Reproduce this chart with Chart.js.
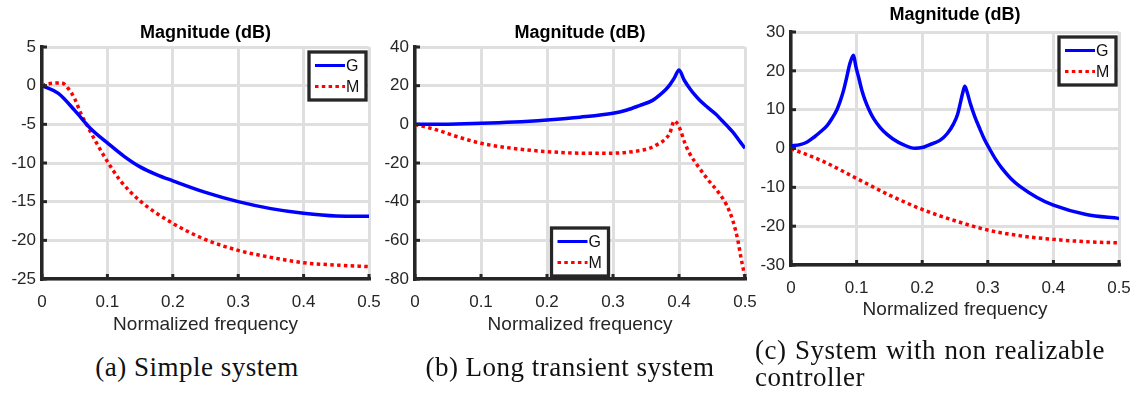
<!DOCTYPE html>
<html>
<head>
<meta charset="utf-8">
<script src="https://cdn.jsdelivr.net/npm/chart.js@4.4.1/dist/chart.umd.min.js"></script>
<style>
  body { margin: 0; background: #fff; width: 1137px; height: 398px; overflow: hidden; position: relative; }
  canvas { position: absolute; top: 0; }
  .cap { position: absolute; font-family: "Liberation Serif", serif; font-size: 27px; line-height: 27px; letter-spacing: 0.5px; color: #111; white-space: nowrap; }
</style>
</head>
<body>
<canvas id="grafA" width="385" height="345" style="left:0px"></canvas>
<canvas id="grafB" width="385" height="345" style="left:375px"></canvas>
<canvas id="grafC" width="387" height="345" style="left:750px"></canvas>

<div class="cap" style="left:92px; top:354px; width:210px; text-align:center">(a) Simple system</div>
<div class="cap" style="left:410px; top:354px; width:320px; text-align:center">(b) Long transient system</div>
<div class="cap" style="left:755px; top:337px; width:350px; white-space:normal; text-align:justify; text-align-last:left">(c) System with non realizable controller</div>

<script>
// Datos
const xTicks = [0, 0.1, 0.2, 0.3, 0.4, 0.5];

// (a) Sistema simple
const freqGA = [0, 0.025, 0.05, 0.075, 0.1, 0.125, 0.15, 0.175, 0.2, 0.25, 0.3, 0.35, 0.4, 0.45, 0.5];
const magGA  = [0, -1.0, -3.2, -5.6, -7.4, -9.1, -10.5, -11.5, -12.3, -13.8, -15.0, -15.9, -16.5, -16.85, -16.9];
const freqMA = [0, 0.015, 0.03, 0.04, 0.05, 0.06, 0.07, 0.08, 0.1, 0.12, 0.15, 0.2, 0.25, 0.3, 0.35, 0.4, 0.45, 0.5];
const magMA  = [0, 0.3, 0.35, -0.35, -1.7, -3.7, -5.3, -6.9, -9.8, -12.3, -14.9, -17.8, -19.9, -21.3, -22.2, -22.9, -23.2, -23.4];
const yTicksA = [5, 0, -5, -10, -15, -20, -25];

// (b) Sistema con transitorio largo
const freqGB = [0, 0.05, 0.1, 0.15, 0.2, 0.25, 0.3, 0.32, 0.34, 0.36, 0.371, 0.38, 0.386, 0.393, 0.4, 0.408, 0.416, 0.424, 0.431, 0.443, 0.456, 0.465, 0.474, 0.481, 0.487, 0.493, 0.5];
const magGB  = [0, 0.1, 0.5, 1.2, 2.3, 3.7, 5.7, 7.3, 9.7, 12.4, 15.2, 18.0, 20.4, 24.0, 28.1, 22.8, 18.7, 15.2, 12.6, 8.9, 5.2, 2.0, -1.2, -3.8, -6.4, -9.2, -12.4];
const freqMB = [0, 0.033, 0.065, 0.1, 0.15, 0.2, 0.25, 0.3, 0.34, 0.355, 0.365, 0.376, 0.386, 0.393, 0.401, 0.409, 0.416, 0.431, 0.444, 0.459, 0.472, 0.482, 0.489, 0.494, 0.5];
const magMB  = [0, -2.9, -6.5, -9.8, -12.5, -14.1, -14.9, -14.9, -13.6, -12.4, -10.8, -8.6, -4.6, 1.8, -2.0, -9.8, -15.0, -22.7, -28.7, -34.8, -41.7, -50.3, -59.7, -69.2, -79.0];
const yTicksB = [40, 20, 0, -20, -40, -60, -80];

// (c) Sistema con controlador no realizable
const freqGC = [0, 0.014, 0.024, 0.035, 0.045, 0.055, 0.062, 0.07, 0.075, 0.08, 0.085, 0.09, 0.0953, 0.099, 0.103, 0.108, 0.113, 0.12, 0.126, 0.136, 0.146, 0.156, 0.171, 0.189, 0.2, 0.21, 0.227, 0.238, 0.248, 0.254, 0.258, 0.262, 0.265, 0.268, 0.273, 0.28, 0.288, 0.295, 0.303, 0.312, 0.322, 0.335, 0.35, 0.375, 0.4, 0.45, 0.5];
const magGC  = [0.7, 1.0, 1.6, 2.9, 4.3, 5.9, 7.6, 10.0, 12.2, 14.9, 18.4, 22.0, 24.0, 21.0, 18.4, 15.0, 12.4, 9.6, 7.7, 5.4, 3.7, 2.4, 1.0, 0.05, 0.25, 0.9, 2.1, 3.8, 6.4, 8.8, 11.6, 14.5, 16.0, 14.8, 11.8, 8.3, 5.0, 2.3, -0.2, -2.8, -5.2, -7.7, -9.9, -12.6, -14.6, -17.0, -18.0];
const freqMC = [0, 0.05, 0.1, 0.15, 0.2, 0.25, 0.3, 0.35, 0.4, 0.45, 0.5];
const magMC  = [0, -3.4, -7.7, -12.0, -15.7, -18.6, -21.0, -22.5, -23.4, -24.0, -24.3];
const yTicksC = [30, 20, 10, 0, -10, -20, -30];

const seriesNames = ['G', 'M'];

const AXIS = '#262626';
const GRID = '#dfdfdf';

// Marcas hacia dentro y caja de leyenda estilo MATLAB
const matlabPlugin = {
  id: 'matlab',
  afterDatasetsDraw(chart, args, opts) {
    const ctx = chart.ctx;
    const a = chart.chartArea;
    const xs = chart.scales.x, ys = chart.scales.y;
    ctx.save();
    ctx.strokeStyle = AXIS;
    ctx.lineWidth = 3;
    xs.ticks.forEach(t => {
      const px = xs.getPixelForValue(t.value);
      ctx.beginPath(); ctx.moveTo(px, a.bottom); ctx.lineTo(px, a.bottom - 5); ctx.stroke();
    });
    ys.ticks.forEach(t => {
      const py = ys.getPixelForValue(t.value);
      ctx.beginPath(); ctx.moveTo(a.left, py); ctx.lineTo(a.left + 5, py); ctx.stroke();
    });

    // leyenda
    const w = 57, h = 48;
    let left, top;
    if (opts.where === 'south') {
      left = (a.left + a.right) / 2 - w / 2;
      top = a.bottom - 3 - h;
    } else {
      left = a.right - 3 - w;
      top = a.top + 5;
    }
    ctx.fillStyle = '#fff';
    ctx.fillRect(left, top, w, h);
    ctx.lineWidth = 3.3;
    ctx.strokeStyle = AXIS;
    ctx.strokeRect(left, top, w, h);
    chart.data.datasets.forEach((ds, i) => {
      const y = top + 13.5 + i * 21;
      ctx.beginPath();
      ctx.setLineDash(ds.borderDash || []);
      ctx.strokeStyle = ds.borderColor;
      ctx.lineWidth = 3;
      ctx.moveTo(left + 6, y); ctx.lineTo(left + 36, y);
      ctx.stroke();
      ctx.setLineDash([]);
      ctx.fillStyle = '#111';
      ctx.font = '16px "Liberation Sans", Arial, sans-serif';
      ctx.textBaseline = 'middle';
      ctx.textAlign = 'left';
      ctx.fillText(ds.label, left + 37, y + 1);
    });
    ctx.restore();
  }
};

function hacerGrafica(id, cfg) {
  const ctx = document.getElementById(id).getContext('2d');
  return new Chart(ctx, {
    type: 'line',
    data: {
      datasets: [{
        label: seriesNames[0],
        data: cfg.fG.map((f, i) => ({ x: f, y: cfg.mG[i] })),
        borderColor: '#0000ff',
        borderWidth: 3.5,
        pointRadius: 0,
        cubicInterpolationMode: 'monotone'
      }, {
        label: seriesNames[1],
        data: cfg.fM.map((f, i) => ({ x: f, y: cfg.mM[i] })),
        borderColor: '#ff0000',
        borderWidth: 3.5,
        borderDash: [3.5, 3.3],
        pointRadius: 0,
        cubicInterpolationMode: 'monotone'
      }]
    },
    options: {
      responsive: false,
      animation: false,
      events: [],
      layout: { padding: { left: 0, right: cfg.padRight, top: 0, bottom: cfg.padBottom } },
      plugins: {
        legend: { display: false },
        tooltip: { enabled: false },
        title: {
          display: true,
          text: 'Magnitude (dB)',
          fullSize: false,
          color: '#000',
          font: { family: '"Liberation Sans", Arial, sans-serif', size: 18, weight: 'bold', lineHeight: 1.2 },
          padding: { top: cfg.titleTop, bottom: cfg.titleBottom }
        },
        matlab: { where: cfg.legendPos }
      },
      scales: {
        x: {
          type: 'linear',
          min: 0, max: 0.5,
          afterBuildTicks: s => { s.ticks = xTicks.map(v => ({ value: v })); },
          afterFit: s => { s.height = cfg.xHeight; s.paddingLeft = 0; s.paddingRight = 0; },
          grid: { color: GRID, lineWidth: 3, drawTicks: false },
          border: { color: AXIS, width: 3.5 },
          ticks: {
            color: AXIS, padding: 13,
            font: { family: '"Liberation Sans", Arial, sans-serif', size: 17 },
            callback: v => String(+v.toFixed(1))
          },
          title: {
            display: true, text: 'Normalized frequency', color: AXIS,
            font: { family: '"Liberation Sans", Arial, sans-serif', size: 19, lineHeight: 1.2 },
            padding: { top: 0, bottom: 0 }
          }
        },
        y: {
          min: cfg.yTicks[cfg.yTicks.length - 1], max: cfg.yTicks[0],
          afterBuildTicks: s => { s.ticks = cfg.yTicks.map(v => ({ value: v })); },
          afterFit: s => { s.width = cfg.yWidth; s.paddingTop = 0; s.paddingBottom = 0; },
          grid: { color: GRID, lineWidth: 3, drawTicks: false },
          border: { color: AXIS, width: 3.5 },
          ticks: {
            color: AXIS, padding: 6,
            font: { family: '"Liberation Sans", Arial, sans-serif', size: 17 },
            callback: v => String(v)
          }
        }
      }
    },
    plugins: [matlabPlugin]
  });
}

document.addEventListener('DOMContentLoaded', function() {
  hacerGrafica('grafA', {
    fG: freqGA, mG: magGA, fM: freqMA, mM: magMA, yTicks: yTicksA,
    yWidth: 42, padRight: 16, padBottom: 8.6, xHeight: 57.4,
    titleTop: 22.2, titleBottom: 3.2, legendPos: 'northeast'
  });
  hacerGrafica('grafB', {
    fG: freqGB, mG: magGB, fM: freqMB, mM: magMB, yTicks: yTicksB,
    yWidth: 40, padRight: 15, padBottom: 8.6, xHeight: 57.4,
    titleTop: 22.2, titleBottom: 3.2, legendPos: 'south'
  });
  hacerGrafica('grafC', {
    fG: freqGC, mG: magGC, fM: freqMC, mM: magMC, yTicks: yTicksC,
    yWidth: 41, padRight: 18, padBottom: 23.6, xHeight: 56.4,
    titleTop: 4.2, titleBottom: 6.2, legendPos: 'northeast'
  });
});
</script>
</body>
</html>
